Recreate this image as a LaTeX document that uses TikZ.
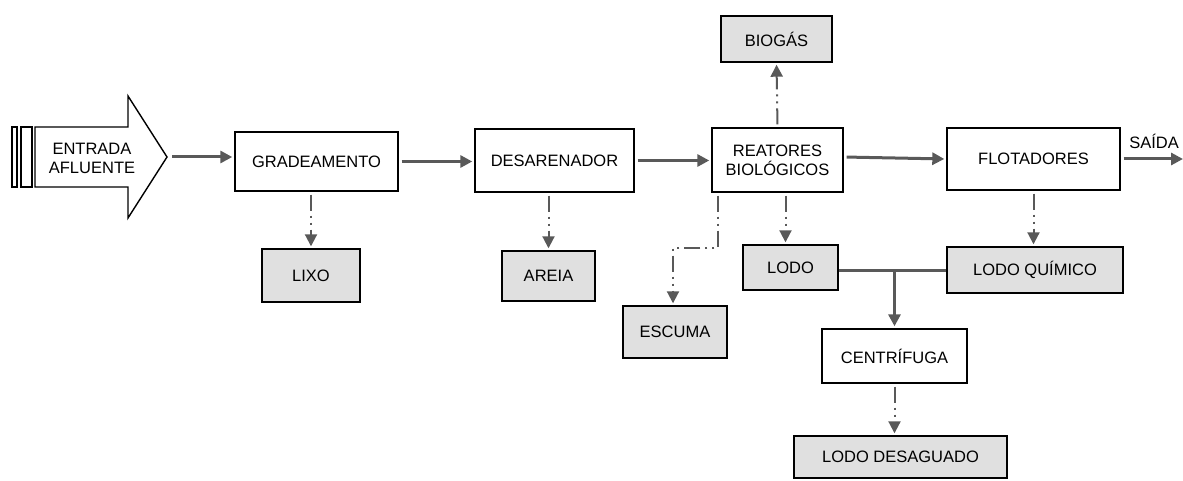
\documentclass[tikz,border=0pt]{standalone}
\usepackage{fontspec}
\setmainfont{Liberation Sans}
\usetikzlibrary{arrows.meta,calc}
\definecolor{conn}{HTML}{595959}
\definecolor{boxgray}{HTML}{E0E0E0}
\tikzset{
  procbox/.style={draw=black,line width=1.4pt,fill=white,inner sep=0pt,align=center,font=\fontsize{16.5}{19}\selectfont},
  outbox/.style={procbox,fill=boxgray},
  flow/.style={draw=conn,line width=3pt,-{Triangle[length=12pt,width=12pt]},shorten >=2pt},
  plainflow/.style={draw=conn,line width=3pt},
  dd/.style={draw=conn,line width=2pt,dash pattern=on 16pt off 5pt on 2pt off 5pt on 2pt off 5pt,-{Triangle[length=12pt,width=12pt]},shorten >=2pt,shorten <=3pt},
  lbl/.style={inner sep=0pt,font=\fontsize{16.5}{19}\selectfont}
}
\begin{document}
\begin{tikzpicture}[x=1pt,y=-1pt]
\useasboundingbox (0,0) rectangle (1183,481);
% entrance arrow
\draw[line width=1.4pt] (12,127) rectangle (17,187);
\draw[line width=1.4pt] (21,127) rectangle (32,187);
\draw[line width=1.4pt,fill=white] (35,127) -- (128,127) -- (128,96) -- (167,157) -- (128,218) -- (128,187) -- (35,187) -- cycle;
\node[lbl,align=center] (in) at (92,158) {ENTRADA\\AFLUENTE};
\coordinate (tip) at (172,157);
% process boxes
\node[procbox,minimum width=163pt,minimum height=59pt] (grad) at (316.5,161.5) {GRADEAMENTO};
\node[procbox,minimum width=159pt,minimum height=63pt] (des) at (554.5,160.5) {DESARENADOR};
\node[procbox,minimum width=131pt,minimum height=64pt] (reat) at (777.5,160) {REATORES\\BIOLÓGICOS};
\node[procbox,minimum width=173pt,minimum height=62pt] (flot) at (1033.5,159) {FLOTADORES};
\node[procbox,minimum width=145pt,minimum height=54pt] (cent) at (894.5,356) {CENTRÍFUGA};
% output boxes
\node[outbox,minimum width=111pt,minimum height=46pt] (bio) at (776.5,39) {BIOGÁS};
\node[outbox,minimum width=98pt,minimum height=53pt] (lixo) at (311,275.5) {LIXO};
\node[outbox,minimum width=93pt,minimum height=50pt] (areia) at (548.5,276) {AREIA};
\node[outbox,minimum width=104pt,minimum height=52pt] (escuma) at (675,332) {ESCUMA};
\node[outbox,minimum width=95pt,minimum height=45pt] (lodo) at (790.5,267.5) {LODO};
\node[outbox,minimum width=176pt,minimum height=46pt] (lq) at (1035,270) {LODO QUÍMICO};
\node[outbox,minimum width=213pt,minimum height=42pt] (ld) at (900.5,457) {LODO DESAGUADO};
\node[lbl] (saida) at (1154,141) {SAÍDA};
\coordinate (out) at (1183,159);
% main flow
\draw[flow] (tip) -- (grad.west |- tip);
\draw[flow,shorten <=3pt] (grad.east) -- (des.west |- grad.east);
\draw[flow,shorten <=3pt] (des.east) -- (reat.west |- des.east);
\draw[flow,shorten <=3pt] ([yshift=3pt]reat.east) -- (flot.west);
\draw[flow,shorten <=3pt,shorten >=0pt] (flot.east) -- (out);
% residues
\draw[dd] (lixo.north |- grad.south) -- (lixo.north);
\draw[dd] (areia.north |- des.south) -- (areia.north);
\draw[dd] (reat.north) -- (bio.south);
\draw[dd] ([xshift=-5pt]lodo.north |- reat.south) -- ([xshift=-5pt]lodo.north);
\draw[dd] (flot.south) -- (flot.south |- lq.north);
\draw[dd] (cent.south) -- (cent.south |- ld.north);
\coordinate (eb1) at (718,248);
\coordinate (eb2) at (673,248);
\draw[dd] (reat.south -| eb1) -- (eb1) -- (eb2) -- (eb2 |- escuma.north);
% sludge line
\draw[plainflow] (lodo.east |- lq.west) -- (lq.west);
\coordinate (j) at (cent.north |- lq.west);
\draw[flow] (j) -- (cent.north);
\end{tikzpicture}
\end{document}
